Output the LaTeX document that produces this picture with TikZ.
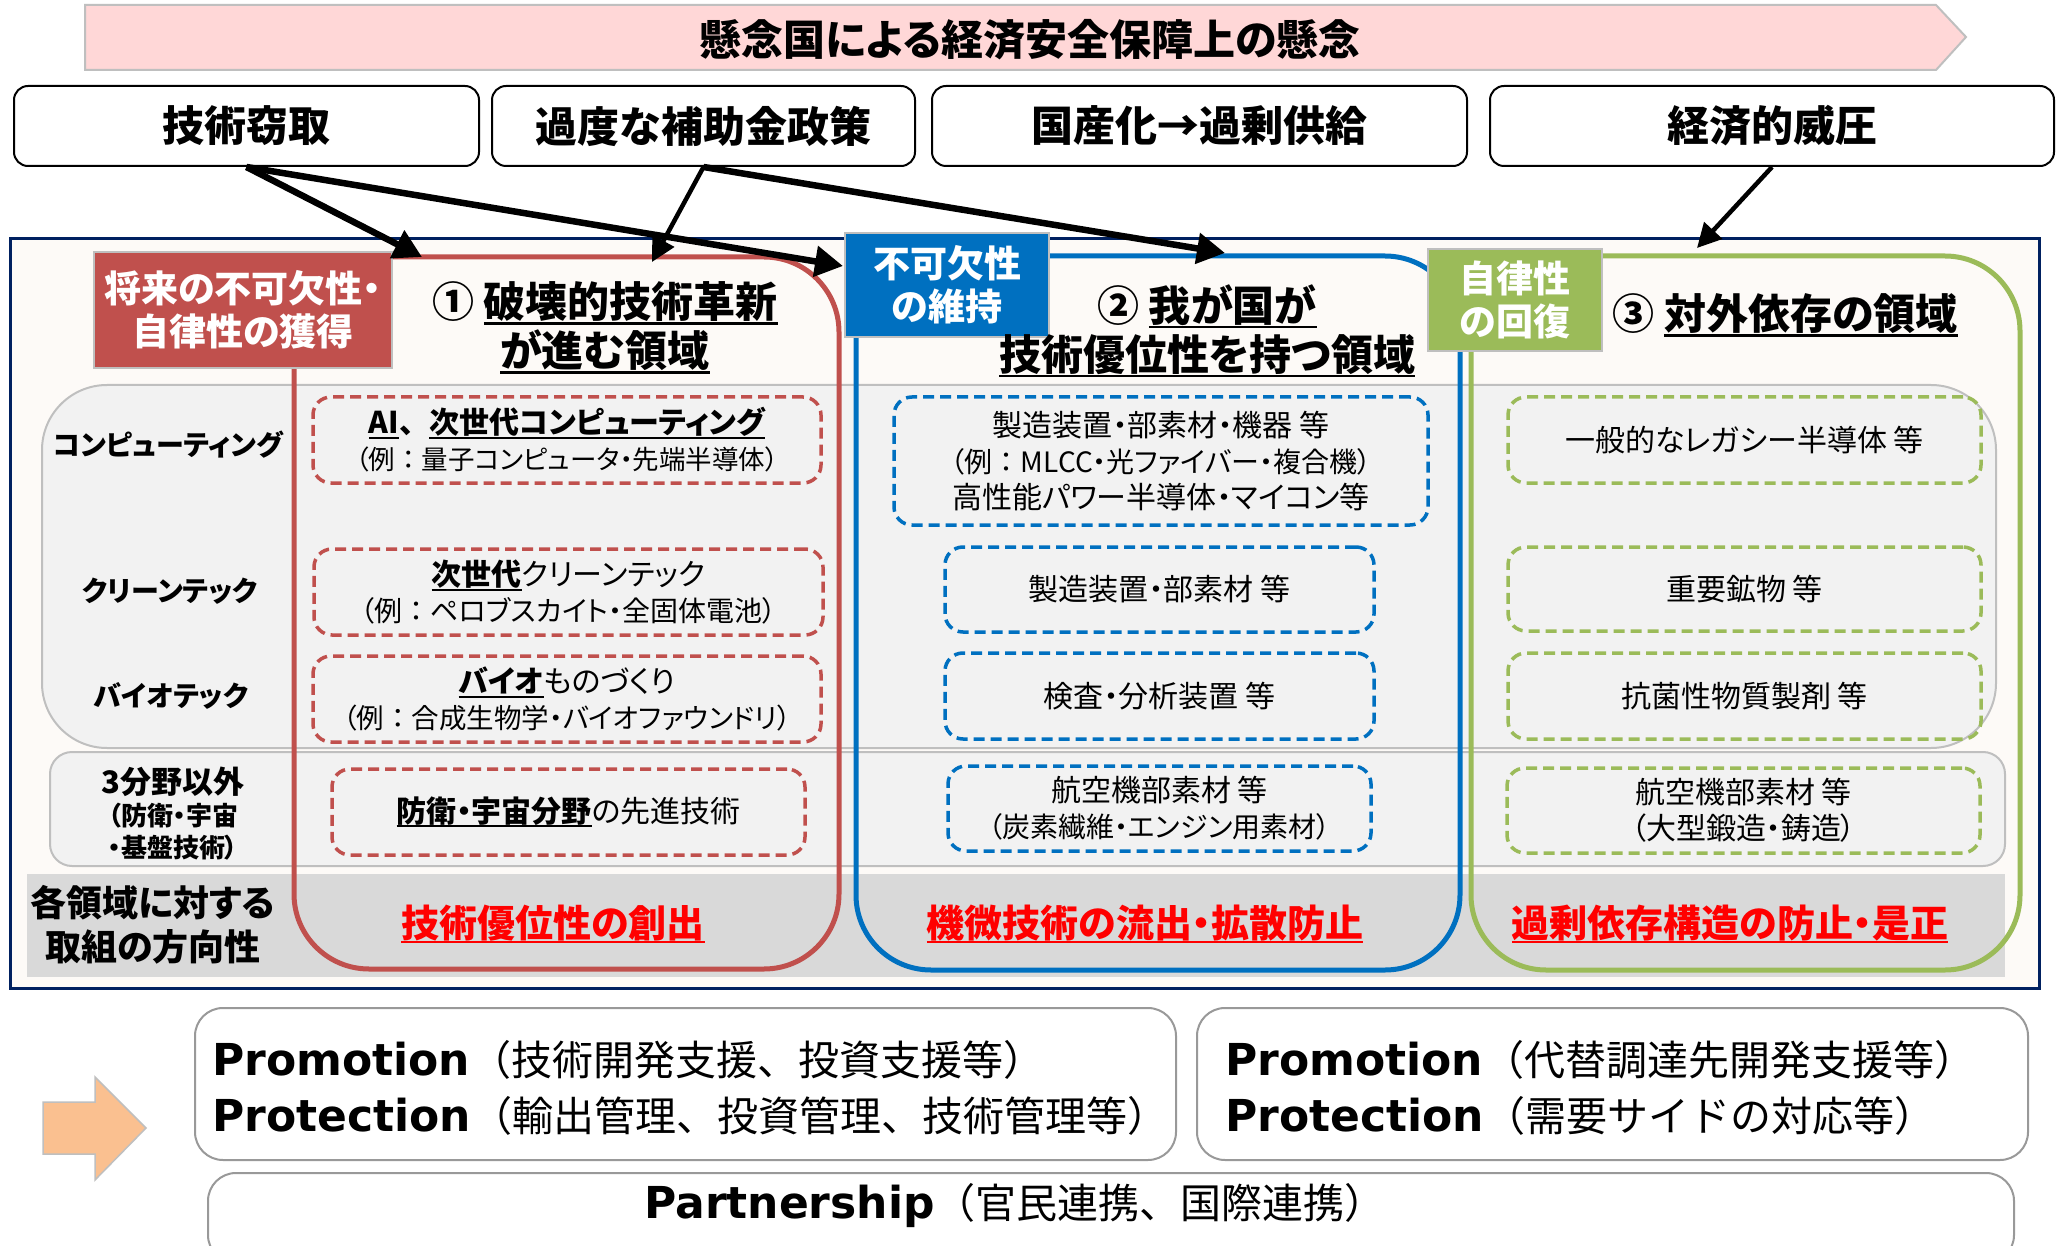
\documentclass[tikz,border=0pt]{standalone}
\usepackage{fontspec}
\setmainfont{Noto Sans CJK JP}[RawFeature=+palt]
\newfontfamily\jpn{Noto Sans CJK JP}
\newfontfamily\dejavu{DejaVu Sans}
\usetikzlibrary{arrows.meta}
\definecolor{navy}{HTML}{002060}
\definecolor{cream}{HTML}{FDFAF7}
\definecolor{pinkb}{HTML}{FFD7D7}
\definecolor{redr}{HTML}{C0504D}
\definecolor{bluer}{HTML}{0070C0}
\definecolor{greenr}{HTML}{9BBB59}
\definecolor{bandg}{HTML}{F2F2F2}
\definecolor{bandd}{HTML}{D9D9D9}
\definecolor{edgeg}{HTML}{BFBFBF}
\definecolor{orangea}{HTML}{FAC090}
\definecolor{redt}{HTML}{FF0000}
\newcommand\fs[2]{\fontsize{#1}{#2}\selectfont}
\newcommand\myul[1]{\setbox0=\hbox{#1}\rlap{\rule[-0.17em]{\wd0}{0.065em}}\box0}
\newcommand\exl[2]{{\fs{#1}{36}（例{\jpn ：}#2）}}
\begin{document}
\begin{tikzpicture}[x=1pt,y=-1pt,
  topbox/.style={draw=black, line width=2, rounded corners=14, fill=white, minimum height=80, inner sep=0, font=\fs{42}{50}\bfseries},
  lab/.style={draw=edgeg, line width=1.5, text=white, inner sep=0, align=center, font=\fs{37}{43}\bfseries},
  dbox/.style={dash pattern=on 11pt off 6pt, line width=3.5, rounded corners=18, inner sep=0, align=center, font=\fs{30}{36}},
  rowlab/.style={inner sep=0, align=center, font=\fs{28}{36}\bfseries},
  title/.style={inner sep=0, align=center, font=\fs{42}{49}\bfseries},
  goal/.style={inner sep=0, text=redt, font=\fs{38}{44}\bfseries},
  pbox/.style={draw=edgeg!80!black, line width=2, rounded corners=28, fill=white, inner sep=0},
  ptext/.style={inner sep=0, anchor=west},
  bigarrow/.style={line width=6.5, -{Triangle[length=28pt,width=30pt]}},
  midarrow/.style={line width=4.5, -{Triangle[length=24pt,width=24pt]}}]
\useasboundingbox (0,0) rectangle (2056,1246);
\fill[white] (0,0) rectangle (2056,1246);
% banner
\draw[fill=pinkb, draw=edgeg, line width=2] (85,5) -- (1936,5) -- (1966,37) -- (1936,70) -- (85,70) -- cycle;
\node[inner sep=0, font=\fs{42}{50}\bfseries] (banner) at (1030,40) {懸念国による経済安全保障上の懸念};
% top boxes
\node[topbox, minimum width=465] (k1) at (246.5,126) {技術窃取};
\node[topbox, minimum width=423] (k2) at (703.5,126) {過度な補助金政策};
\node[topbox, minimum width=535] (k3) at (1199.5,126) {国産化→過剰供給};
\node[topbox, minimum width=564] (k4) at (1772,126) {経済的威圧};
% frame
\draw[fill=cream, draw=navy, line width=3] (10,239) rectangle (2039,988);
% bands
\draw[fill=bandg, draw=edgeg, line width=2, rounded corners=65] (42,385) rectangle (1996,748);
\draw[fill=bandg, draw=edgeg, line width=2, rounded corners=22] (50,752) rectangle (2005,866);
\fill[bandd] (27,874) rectangle (2005,977);
% regions
\draw[redr, line width=5, rounded corners=75] (294,257) rectangle (839,969);
\draw[bluer, line width=5, rounded corners=75] (856,256) rectangle (1460,970);
\draw[greenr, line width=5, rounded corners=75] (1471,256) rectangle (2020,970);
% label boxes
\node[lab, fill=redr, minimum width=298, minimum height=116] (l1) at (243,310) {将来の不可欠性・\\自律性の獲得};
\node[lab, fill=bluer, minimum width=204, minimum height=104] (l2) at (947,285) {不可欠性\\の維持};
\node[lab, fill=greenr, minimum width=174, minimum height=102] (l3) at (1515,300) {自律性\\の回復};
% titles
\node[title] (t1) at (605,328) {① \myul{破壊的技術革新}\\\myul{が進む領域}};
\node[title] (t2) at (1207,331) {② \myul{我が国が}\\\myul{技術優位性を持つ領域}};
\node[title] (t3) at (1785,315) {③ \myul{対外依存の領域}};
% row labels
\node[rowlab] (rl1) at (168,445) {コンピューティング};
\node[rowlab] (rl2) at (170,591) {クリーンテック};
\node[rowlab] (rl3) at (171,696) {バイオテック};
\node[rowlab, font=\fs{26}{32}\bfseries] (rl4) at (173,814) {{\fs{31}{32}3分野以外}\\（防衛・宇宙\\・基盤技術）};
\node[rowlab, font=\fs{36}{44}\bfseries] (rl5) at (153,925) {各領域に対する\\取組の方向性};
% red dashed boxes
\node[dbox, draw=redr, minimum width=508, minimum height=86] (r1) at (567,440) {{\bfseries\myul{AI}{\jpn 、}\myul{次世代コンピューティング}}\\\exl{26.5}{量子コンピュータ・先端半導体}};
\node[dbox, draw=redr, minimum width=509, minimum height=86] (r2) at (568.5,592) {{\bfseries\myul{次世代}}クリーンテック\\\exl{28}{ペロブスカイト・全固体電池}};
\node[dbox, draw=redr, minimum width=508, minimum height=86] (r3) at (567,699) {{\bfseries\myul{バイオ}}ものづくり\\\exl{27.5}{合成生物学・バイオファウンドリ}};
\node[dbox, draw=redr, minimum width=473, minimum height=86] (r4) at (568.5,812) {{\bfseries\myul{防衛・宇宙分野}}の先進技術};
% blue dashed boxes
\node[dbox, draw=bluer, minimum width=534, minimum height=128] (b1) at (1161,461) {製造装置・部素材・機器 等\\\exl{28}{MLCC・光ファイバー・複合機}\\高性能パワー半導体・マイコン等};
\node[dbox, draw=bluer, minimum width=429, minimum height=85] (b2) at (1159.5,589.5) {製造装置・部素材 等};
\node[dbox, draw=bluer, minimum width=429, minimum height=86] (b3) at (1159.5,696) {検査・分析装置 等};
\node[dbox, draw=bluer, minimum width=423, minimum height=85] (b4) at (1159.5,808.5) {航空機部素材 等\\{\fs{28}{36}（炭素繊維・エンジン用素材）}};
% green dashed boxes
\node[dbox, draw=greenr, minimum width=473, minimum height=86] (g1) at (1744.5,440) {一般的なレガシー半導体 等};
\node[dbox, draw=greenr, minimum width=473, minimum height=84] (g2) at (1744.5,589) {重要鉱物 等};
\node[dbox, draw=greenr, minimum width=473, minimum height=86] (g3) at (1744.5,696) {抗菌性物質製剤 等};
\node[dbox, draw=greenr, minimum width=473, minimum height=85] (g4) at (1743.5,810.5) {航空機部素材 等\\（大型鍛造・鋳造）};
% goals
\node[goal] (o1) at (553,924) {\myul{技術優位性の創出}};
\node[goal] (o2) at (1145,924) {\myul{機微技術の流出・拡散防止}};
\node[goal] (o3) at (1730,924) {\myul{過剰依存構造の防止・是正}};
% arrows
\coordinate (e1) at (422,257);
\coordinate (e2) at (843,266);
\coordinate (e3) at (652,262);
\coordinate (e4) at (1225,253);
\coordinate (e5) at (1697,248);
\draw[bigarrow] (k1.south) -- (e1);
\draw[bigarrow] (k1.south) -- (e2);
\draw[midarrow] (k2.south) -- (e3);
\draw[bigarrow] (k2.south) -- (e4);
\draw[midarrow] (k4.south) -- (e5);
% bottom
\draw[fill=orangea, draw=edgeg, line width=1.5] (43,1102) -- (95,1102) -- (95,1077) -- (146,1128) -- (95,1180) -- (95,1154) -- (43,1154) -- cycle;
\node[pbox, minimum width=981, minimum height=152] (pl) at (685.5,1084) {};
\node[pbox, minimum width=831, minimum height=152] (pr) at (1612.5,1084) {};
\node[pbox, minimum width=1806, minimum height=90] (pp) at (1111,1218) {};
\node[ptext] (pl1) at (212,1060) {{\dejavu\bfseries\fs{44}{50}Promotion}{\jpn\fs{41}{48}（技術開発支援、投資支援等）}};
\node[ptext] (pl2) at (212,1116) {{\dejavu\bfseries\fs{44}{50}Protection}{\jpn\fs{41}{48}（輸出管理、投資管理、技術管理等）}};
\node[ptext] (pr1) at (1225,1060) {{\dejavu\bfseries\fs{44}{50}Promotion}{\jpn\fs{41}{48}（代替調達先開発支援等）}};
\node[ptext] (pr2) at (1225,1116) {{\dejavu\bfseries\fs{44}{50}Protection}{\jpn\fs{41}{48}（需要サイドの対応等）}};
\node[inner sep=0] (pp1) at (1015,1206) {{\dejavu\bfseries\fs{44}{50}Partnership}{\jpn\fs{41}{48}（官民連携、国際連携）}};
\end{tikzpicture}
\end{document}
